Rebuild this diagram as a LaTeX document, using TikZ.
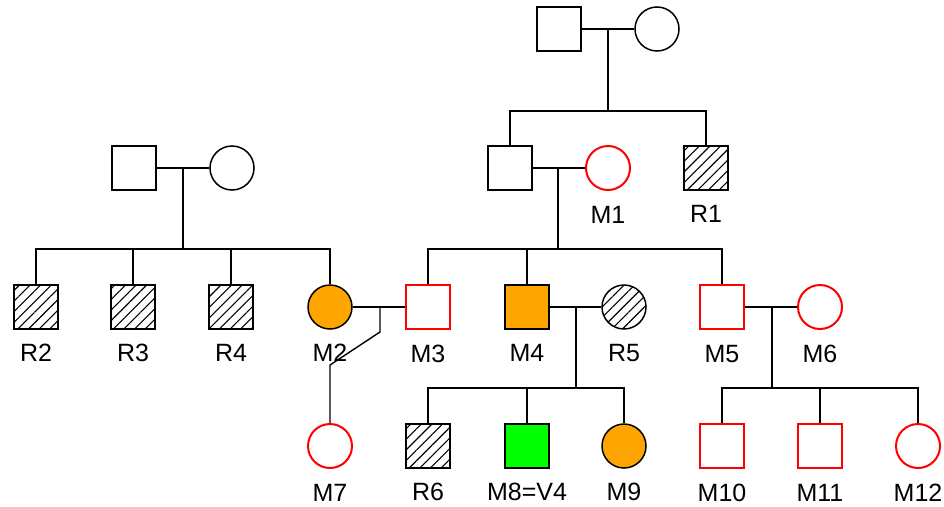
\documentclass[tikz,border=0pt]{standalone}
\usepackage{fontspec}
\setmainfont{Liberation Sans}
\usepackage{tikz}
\usetikzlibrary{patterns.meta}
\definecolor{amber}{HTML}{FFA500}
\definecolor{brightgreen}{HTML}{00FF00}
\tikzset{
  person/.style = {draw, line width=1.5pt, inner sep=0pt, minimum size=44pt},
  male/.style = {person, rectangle},
  female/.style = {person, circle},
  tested/.style = {draw=red, line width=2pt},
  hatched/.style = {pattern={Lines[angle=45, distance=7.5pt, line width=1.1pt]}},
  lbl/.style = {font=\fontsize{25}{27}\selectfont, inner sep=0pt, text height=17.5pt, text depth=0pt},
}

\begin{document}
\begin{tikzpicture}[
  x=1pt, y=-1pt,
  every label/.style={lbl},
  label distance=14.5pt,
  link/.style={line width=1.4pt},
]
\useasboundingbox (0,0) rectangle (944,506);

% Generation I
\node[male] (gpa) at (559,29) {};
\node[female] (gma) at (657,29) {};
\node[male] (lpa) at (134,168) {};
\node[female] (lma) at (232,168) {};

% Generation II
\node[male] (fa) at (510,168) {};
\node[female, tested, label={below:M1}] (m1) at (608,168) {};
\node[male, hatched, label={below:R1}] (r1) at (706,168) {};

% Generation III
\node[male, hatched, label={below:R2}] (r2) at (36,307) {};
\node[male, hatched, label={below:R3}] (r3) at (133,307) {};
\node[male, hatched, label={below:R4}] (r4) at (231,307) {};
\node[female, fill=amber, label={below:M2}] (m2) at (330,307) {};
\node[male, tested, label={below:M3}] (m3) at (428,307) {};
\node[male, fill=amber, label={below:M4}] (m4) at (527,307) {};
\node[female, hatched, label={below:R5}] (r5) at (624,307) {};
\node[male, tested, label={below:M5}] (m5) at (722,307) {};
\node[female, tested, label={below:M6}] (m6) at (820,307) {};

% Generation IV
\node[female, tested, label={below:M7}] (m7) at (330,446) {};
\node[male, hatched, label={below:R6}] (r6) at (428,446) {};
\node[male, fill=brightgreen, label={below:{M8=V4}}] (m8) at (527,446) {};
\node[female, fill=amber, label={below:M9}] (m9) at (624,446) {};
\node[male, tested, label={below:M10}] (m10) at (722,446) {};
\node[male, tested, label={below:M11}] (m11) at (820,446) {};
\node[female, tested, label={below:M12}] (m12) at (918,446) {};

% Junctions
\coordinate (c0) at (608,29);  \coordinate (s0) at (608,111);
\coordinate (c1) at (183,168); \coordinate (s1) at (183,249);
\coordinate (c2) at (558,168); \coordinate (s2) at (558,249);
\coordinate (c3) at (380,307); \coordinate (k1) at (380,332); \coordinate (k2) at (330,365);
\coordinate (c4) at (576,307); \coordinate (s4) at (576,388);
\coordinate (c5) at (772,307); \coordinate (s5) at (772,388);

% Lines
\draw[link] (gpa) -- (gma);
\draw[link] (c0) -- (s0);
\draw[link] (s0) -| (fa.north);
\draw[link] (s0) -| (r1.north);

\draw[link] (lpa) -- (lma);
\draw[link] (c1) -- (s1);
\foreach \k in {r2,r3,r4,m2} \draw[link] (s1) -| (\k.north);

\draw[link] (fa) -- (m1);
\draw[link] (c2) -- (s2);
\foreach \k in {m3,m4,m5} \draw[link] (s2) -| (\k.north);

\draw[link] (m2) -- (m3);
\draw[link] (c3) -- (k1) -- (k2) -- (m7.north);

\draw[link] (m4) -- (r5);
\draw[link] (c4) -- (s4);
\foreach \k in {r6,m8,m9} \draw[link] (s4) -| (\k.north);

\draw[link] (m5) -- (m6);
\draw[link] (c5) -- (s5);
\foreach \k in {m10,m11,m12} \draw[link] (s5) -| (\k.north);

\end{tikzpicture}
\end{document}
